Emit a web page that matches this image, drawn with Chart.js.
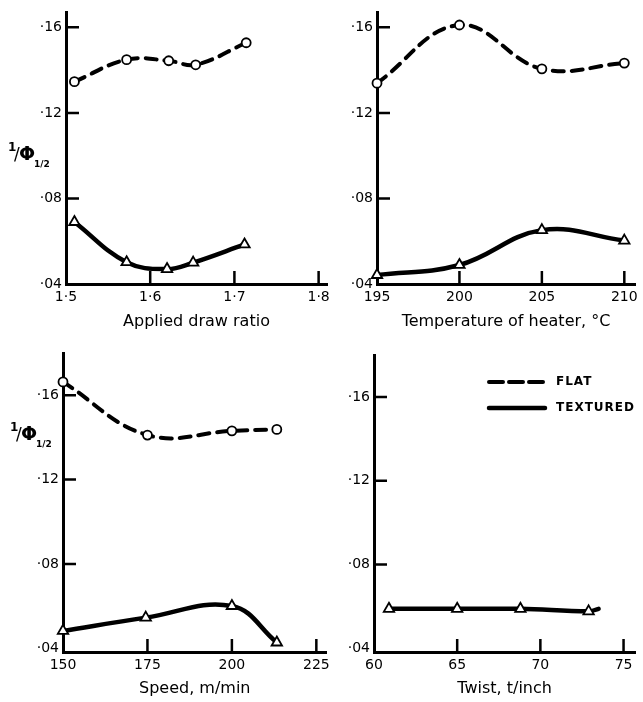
<!DOCTYPE html>
<html>
<head>
<meta charset="utf-8">
<script src="https://cdn.jsdelivr.net/npm/chart.js@4.4.1/dist/chart.umd.min.js"></script>
<style>
  body { margin: 0; background: #fff; }
  #wrap { position: relative; width: 643px; height: 702px; }
  canvas { position: absolute; }
</style>
</head>
<body>
<div id="wrap">
  <canvas id="drawChart"></canvas>
  <canvas id="heaterChart"></canvas>
  <canvas id="speedChart"></canvas>
  <canvas id="twistChart"></canvas>
</div>
<script>
// shared y ticks (1/phi_1/2)
const yTicks = [0.04, 0.08, 0.12, 0.16];

// applied draw ratio
const drawTicks = [1.5, 1.6, 1.7, 1.8];
const drawRatioFlat = [1.51, 1.572, 1.622, 1.654, 1.714];
const drawFlat = [0.1346, 0.1449, 0.1444, 0.1425, 0.1528];
const drawRatioTex = [1.51, 1.572, 1.62, 1.651, 1.712];
const drawTex = [0.069, 0.0502, 0.047, 0.050, 0.0585];

// temperature of heater
const heaterTicks = [195, 200, 205, 210];
const heaterTemp = [195, 200, 205, 210];
const heaterFlat = [0.1339, 0.1611, 0.1406, 0.1433];
const heaterTex = [0.0442, 0.0489, 0.0652, 0.0603];

// speed
const speedTicks = [150, 175, 200, 225];
const speedFlatX = [150, 175, 200, 213.3];
const speedFlat = [0.1663, 0.1411, 0.1431, 0.1438];
const speedTexX = [150, 174.5, 200, 213.3];
const speedTex = [0.0483, 0.0546, 0.0601, 0.0428];

// twist (last entry is the line end, no marker)
const twistTicks = [60, 65, 70, 75];
const twist = [60.9, 65, 68.8, 72.9, 73.5];
const twistTex = [0.0589, 0.0589, 0.0589, 0.0577, 0.0589];
const twistMarks = [6, 6, 6, 6, 0];

Chart.defaults.font.family = '"DejaVu Sans", sans-serif';
Chart.defaults.color = '#000';

const pts = (xs, ys) => xs.map((x, i) => ({ x: x, y: ys[i] }));

const flatSet = (xs, ys) => ({
  label: 'FLAT',
  data: pts(xs, ys),
  borderColor: '#000',
  borderWidth: 4,
  borderDash: [11, 8],
  borderCapStyle: 'round',
  tension: 0.4,
  pointStyle: 'circle',
  pointRadius: 4.5,
  pointBackgroundColor: '#fff',
  pointBorderColor: '#000',
  pointBorderWidth: 1.8,
  clip: false
});

const texSet = (xs, ys, radius) => ({
  label: 'TEXTURED',
  data: pts(xs, ys),
  borderColor: '#000',
  borderWidth: 4.5,
  borderCapStyle: 'round',
  tension: 0.4,
  pointStyle: 'triangle',
  pointRadius: radius || 6,
  pointBackgroundColor: '#fff',
  pointBorderColor: '#000',
  pointBorderWidth: 1.8,
  clip: false
});

// tick marks pointing into the plot
const inwardTicks = {
  id: 'inwardTicks',
  beforeDatasetsDraw(chart) {
    const { ctx, chartArea: a, scales: { x, y } } = chart;
    ctx.save();
    ctx.strokeStyle = '#000';
    ctx.lineWidth = 2.5;
    ctx.beginPath();
    x.ticks.forEach(t => {
      const px = x.getPixelForValue(t.value);
      if (px - a.left < 6) return;
      ctx.moveTo(px, a.bottom);
      ctx.lineTo(px, a.bottom - 13);
    });
    y.ticks.forEach(t => {
      const py = y.getPixelForValue(t.value);
      if (a.bottom - py < 6) return;
      ctx.moveTo(a.left, py);
      ctx.lineTo(a.left + 13, py);
    });
    ctx.stroke();
    ctx.restore();
  }
};

// "1/phi 1/2" axis label
const phiLabel = (lx, ly) => ({
  id: 'phiLabel',
  afterDraw(chart) {
    const ctx = chart.ctx;
    ctx.save();
    ctx.fillStyle = '#000';
    ctx.textBaseline = 'alphabetic';
    ctx.font = 'bold 12px "DejaVu Sans"';
    ctx.fillText('1', lx, ly - 9);
    ctx.font = '17px "DejaVu Sans"';
    ctx.fillText('/', lx + 6, ly);
    ctx.font = 'bold 19px "DejaVu Sans"';
    ctx.fillText('\u03A6', lx + 11, ly);
    ctx.font = 'bold 9px "DejaVu Sans"';
    ctx.fillText('1/2', lx + 26, ly + 7);
    ctx.restore();
  }
});

const keyBox = {
  id: 'keyBox',
  afterDraw(chart) {
    const ctx = chart.ctx;
    ctx.save();
    ctx.strokeStyle = '#000';
    ctx.lineCap = 'round';
    ctx.lineWidth = 4;
    ctx.setLineDash([14, 6]);
    ctx.beginPath();
    ctx.moveTo(154, 42);
    ctx.lineTo(210, 42);
    ctx.stroke();
    ctx.setLineDash([]);
    ctx.lineWidth = 4.5;
    ctx.beginPath();
    ctx.moveTo(154, 68);
    ctx.lineTo(210, 68);
    ctx.stroke();
    ctx.fillStyle = '#000';
    ctx.font = 'bold 12px "DejaVu Sans"';
    ctx.letterSpacing = '1px';
    ctx.textBaseline = 'middle';
    ctx.fillText('FLAT', 221, 42);
    ctx.fillText('TEXTURED', 221, 68);
    ctx.restore();
  }
};

function panel(id, box, area, o) {
  const cv = document.getElementById(id);
  cv.width = box.w;
  cv.height = box.h;
  cv.style.left = box.x + 'px';
  cv.style.top = box.y + 'px';
  return new Chart(cv, {
    type: 'line',
    data: { datasets: o.datasets },
    options: {
      responsive: false,
      animation: false,
      devicePixelRatio: 1,
      layout: {
        padding: { top: area.top - box.y, right: box.x + box.w - area.right, left: 0, bottom: 0 }
      },
      plugins: { legend: { display: false }, tooltip: { enabled: false } },
      scales: {
        x: {
          type: 'linear',
          min: o.xMin,
          max: o.xMax,
          afterFit: s => { s.height = box.y + box.h - area.bottom; },
          afterBuildTicks: s => { s.ticks = o.xTicks.map(v => ({ value: v })); },
          grid: { display: false, drawTicks: false },
          border: { color: '#000', width: 3 },
          ticks: {
            padding: 5, autoSkip: false, maxRotation: 0,
            font: { size: 14 },
            callback: o.xFmt || (v => String(v))
          },
          title: {
            display: true, text: o.title,
            font: { size: 16 },
            padding: { top: 0, bottom: o.titlePad }
          }
        },
        y: {
          type: 'linear',
          min: o.yMin,
          max: o.yMax,
          afterFit: s => { s.width = area.left - box.x; },
          afterBuildTicks: s => { s.ticks = yTicks.map(v => ({ value: v })); },
          grid: { display: false, drawTicks: false },
          border: { color: '#000', width: 3 },
          ticks: {
            padding: 4, autoSkip: false,
            font: { size: 14 },
            callback: v => '\u00B7' + String(Math.round(v * 100)).padStart(2, '0')
          }
        }
      }
    },
    plugins: [inwardTicks].concat(o.extra || [])
  });
}

panel('drawChart', { x: 0, y: 0, w: 335, h: 340 }, { left: 66, top: 12, right: 330, bottom: 284 }, {
  xMin: 1.5, xMax: 1.81, xTicks: drawTicks,
  xFmt: v => v.toFixed(1).replace('.', '\u00B7'),
  yMin: 0.04, yMax: 0.167,
  title: 'Applied draw ratio', titlePad: 9,
  datasets: [flatSet(drawRatioFlat, drawFlat), texSet(drawRatioTex, drawTex)],
  extra: [phiLabel(8, 160)]
});

panel('heaterChart', { x: 335, y: 0, w: 308, h: 340 }, { left: 377, top: 12, right: 642, bottom: 284 }, {
  xMin: 195, xMax: 210.65, xTicks: heaterTicks,
  yMin: 0.04, yMax: 0.167,
  title: 'Temperature of heater, \u00B0C', titlePad: 9,
  datasets: [flatSet(heaterTemp, heaterFlat), texSet(heaterTemp, heaterTex)]
});

panel('speedChart', { x: 0, y: 340, w: 335, h: 362 }, { left: 63, top: 353, right: 330, bottom: 652 }, {
  xMin: 150, xMax: 228, xTicks: speedTicks,
  yMin: 0.0383, yMax: 0.18,
  title: 'Speed, m/min', titlePad: 4,
  datasets: [flatSet(speedFlatX, speedFlat), texSet(speedTexX, speedTex)],
  extra: [phiLabel(10, 100)]
});

panel('twistChart', { x: 335, y: 340, w: 308, h: 362 }, { left: 374, top: 355, right: 640, bottom: 652 }, {
  xMin: 60, xMax: 75.7, xTicks: twistTicks,
  yMin: 0.0383, yMax: 0.18,
  title: 'Twist, t/inch', titlePad: 4,
  datasets: [texSet(twist, twistTex, twistMarks)],
  extra: [keyBox]
});
</script>
</body>
</html>
